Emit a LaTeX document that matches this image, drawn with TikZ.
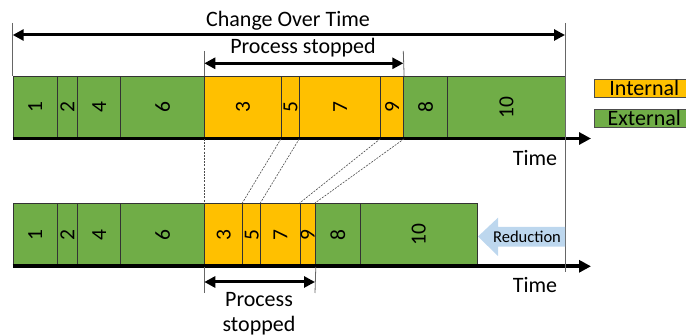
\documentclass[tikz,border=0pt]{standalone}
\usepackage{fontspec}
\setmainfont{Carlito}
\usetikzlibrary{arrows.meta}
\definecolor{gfill}{RGB}{112,173,71}
\definecolor{ofill}{RGB}{255,192,0}
\definecolor{bfill}{RGB}{189,215,238}
\tikzset{
  cell/.style={draw=black!80, line width=0.8pt, inner sep=0pt, anchor=north west, font=\fontsize{21.5}{21.5}\selectfont},
  gcell/.style={cell, fill=gfill},
  ocell/.style={cell, fill=ofill},
  bigarrow/.style={line width=3pt, {Triangle[length=11pt,width=11pt]}-{Triangle[length=11pt,width=11pt]}},
  axisline/.style={line width=3.6pt, -{Triangle[length=12pt,width=12pt]}},
  guide/.style={draw=black!60, line width=0.8pt},
  conn/.style={draw=black!70, line width=0.6pt, dash pattern=on 2pt off 1.2pt},
  lbl/.style={font=\fontsize{22}{22}\selectfont, inner sep=0pt},
}
\newcommand{\rt}[1]{\rotatebox{90}{#1}}
\begin{document}
\begin{tikzpicture}[x=1pt,y=-1pt]
\useasboundingbox (0,0) rectangle (686,336);
% top row
\node[gcell, minimum width=44pt, minimum height=62pt] (t1) at (12.7,76) {\rt{1}};
\node[gcell, minimum width=20.6pt, minimum height=62pt] (t2) at (56.7,76) {\rt{2}};
\node[gcell, minimum width=43pt, minimum height=62pt] (t4) at (77.3,76) {\rt{4}};
\node[gcell, minimum width=84pt, minimum height=62pt] (t6) at (120.3,76) {\rt{6}};
\node[ocell, minimum width=76.7pt, minimum height=62pt] (t3) at (204.3,76) {\rt{3}};
\node[ocell, minimum width=18.3pt, minimum height=62pt] (t5) at (281,76) {\rt{5}};
\node[ocell, minimum width=81pt, minimum height=62pt] (t7) at (299.3,76) {\rt{7}};
\node[ocell, minimum width=23pt, minimum height=62pt] (t9) at (380.3,76) {\rt{9}};
\node[gcell, minimum width=43.7pt, minimum height=62pt] (t8) at (403.3,76) {\rt{8}};
\node[gcell, minimum width=118pt, minimum height=62pt] (t10) at (447,76) {\rt{10}};
% bottom row
\node[gcell, minimum width=44pt, minimum height=63pt] (b1) at (12.7,203) {\rt{1}};
\node[gcell, minimum width=20.6pt, minimum height=63pt] (b2) at (56.7,203) {\rt{2}};
\node[gcell, minimum width=43pt, minimum height=63pt] (b4) at (77.3,203) {\rt{4}};
\node[gcell, minimum width=84pt, minimum height=63pt] (b6) at (120.3,203) {\rt{6}};
\node[ocell, minimum width=38pt, minimum height=63pt] (b3) at (204.3,203) {\rt{3}};
\node[ocell, minimum width=18pt, minimum height=63pt] (b5) at (242.3,203) {\rt{5}};
\node[ocell, minimum width=39.4pt, minimum height=63pt] (b7) at (260.3,203) {\rt{7}};
\node[ocell, minimum width=15.3pt, minimum height=63pt] (b9) at (299.7,203) {\rt{9}};
\node[gcell, minimum width=44.7pt, minimum height=63pt] (b8) at (315,203) {\rt{8}};
\node[gcell, minimum width=117pt, minimum height=63pt] (b10) at (359.7,203) {\rt{10}};
% axes
\coordinate (ta0) at (12.7,138.5);
\coordinate (ta1) at (591,138.5);
\coordinate (ba0) at (12.7,266.3);
\coordinate (ba1) at (591,266.3);
\draw[axisline] (ta0) -- (ta1);
\draw[axisline] (ba0) -- (ba1);
\node[lbl] (time1) at (535,158.5) {Time};
\node[lbl] (time2) at (535,285.5) {Time};
% change over time
\coordinate (cl) at (12.7,35);
\coordinate (cr) at (565,35);
\coordinate (cltop) at (12.7,23);
\coordinate (crtop) at (565,23);
\coordinate (crbot) at (565,272);
\draw[guide] (cltop) -- (t1.north west);
\draw[guide] (crtop) -- (crbot);
\draw[bigarrow] (cl) -- (cr);
\node[lbl] (cot) at (288,21) {Change Over Time};
% process stopped (top)
\coordinate (pl) at (204.3,63.3);
\coordinate (pr) at (403.3,63.3);
\coordinate (pltop) at (204.3,51);
\coordinate (prtop) at (403.3,51);
\draw[guide] (pltop) -- (t3.north west);
\draw[guide] (prtop) -- (t9.north east);
\draw[bigarrow] (pl) -- (pr);
\node[lbl] (ps1) at (303,48) {Process stopped};
% connectors
\draw[conn] (t3.south west) -- (b3.north west);
\draw[conn] (t5.south west) -- (b5.north west);
\draw[conn] (t7.south west) -- (b7.north west);
\draw[conn] (t9.south west) -- (b9.north west);
\draw[conn] (t9.south east) -- (b8.north west);
% process stopped (bottom)
\coordinate (ql) at (204.3,282);
\coordinate (qr) at (315,282);
\coordinate (qlbot) at (204.3,293);
\coordinate (qrbot) at (315,293);
\draw[guide] (b3.south west) -- (qlbot);
\draw[guide] (b9.south east) -- (qrbot);
\draw[bigarrow] (ql) -- (qr);
\node[lbl, align=center] (ps2) at (259,314) {Process\\[3pt]stopped};
% reduction arrow
\fill[bfill] (478,236.5) -- (498,217.7) -- (498,227) -- (565,227) -- (565,246.7) -- (498,246.7) -- (498,256) -- cycle;
\node[font=\fontsize{16.5}{16.5}\selectfont, inner sep=0pt] (red) at (527,236.5) {Reduction};
% legend
\node[cell, fill=ofill, minimum width=92pt, minimum height=18pt, draw=black!70] (li) at (594,79) {};
\node[cell, fill=gfill, minimum width=92pt, minimum height=17.5pt, draw=black!70] (le) at (594,109.3) {};
\node[lbl] (lit) at (644.3,88) {Internal};
\node[lbl] (let) at (644.3,118) {External};
\end{tikzpicture}
\end{document}
